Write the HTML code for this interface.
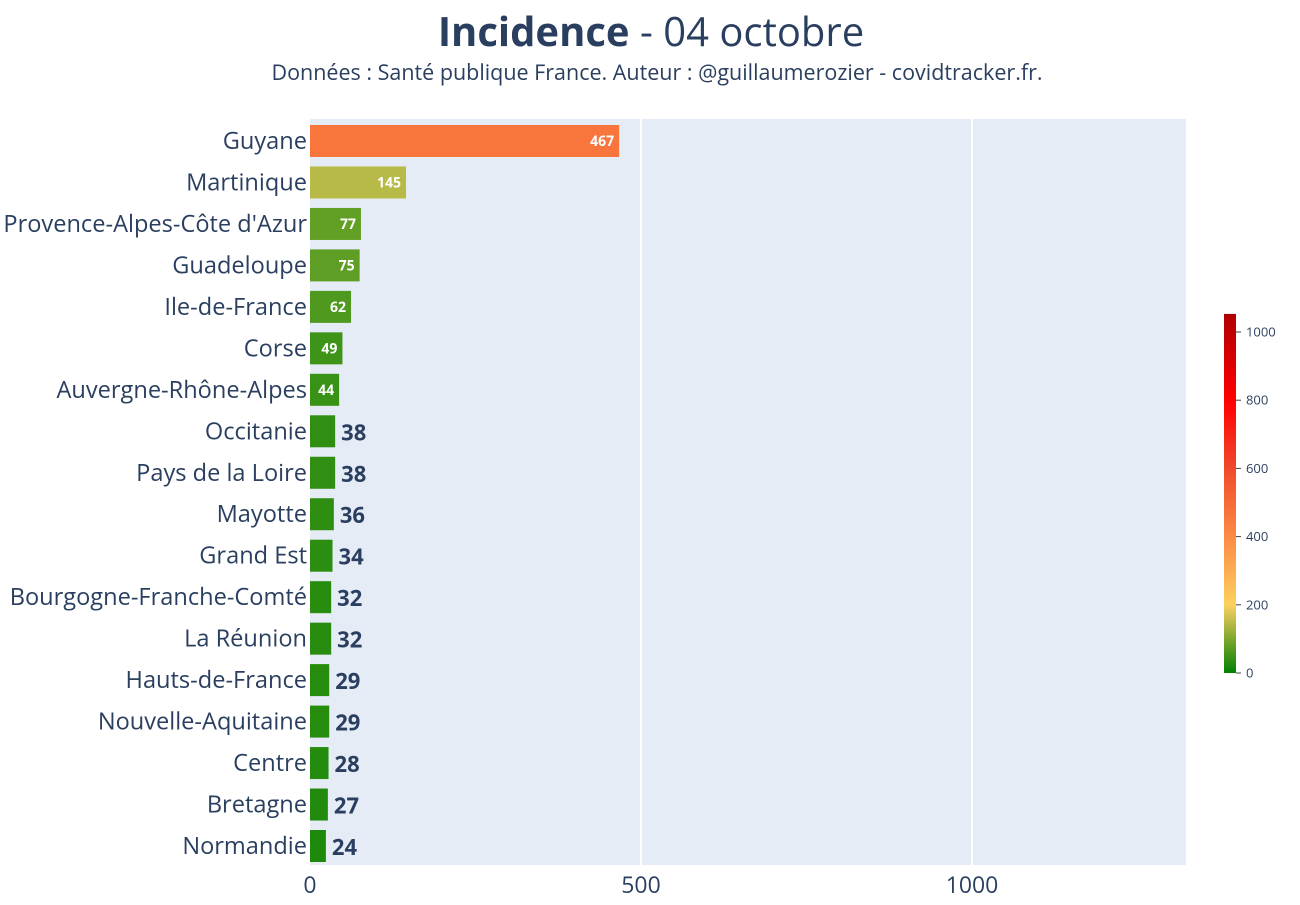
<!DOCTYPE html>
<html><head><meta charset="utf-8"><style>
body{margin:0;background:#fff;}
svg{font-family:"Open Sans","Liberation Sans",sans-serif;}
</style></head><body>
<svg id="c" width="1300" height="900" xmlns="http://www.w3.org/2000/svg">
<text x="651" y="46" text-anchor="middle" font-size="40" fill="#2a3f5f"><tspan font-weight="bold">Incidence</tspan> - 04 octobre</text>
<text x="657" y="80" text-anchor="middle" font-size="21.5" fill="#2a3f5f">Données : Santé publique France. Auteur : @guillaumerozier - covidtracker.fr.</text>
<rect x="310" y="119" width="876" height="746" fill="#e5ecf6"/>
<g id="grid"></g><g id="bars"></g><g id="xt"></g><g id="cb"></g>
</svg>
<script>
const categories=["Guyane","Martinique","Provence-Alpes-Côte d'Azur","Guadeloupe","Ile-de-France","Corse","Auvergne-Rhône-Alpes","Occitanie","Pays de la Loire","Mayotte","Grand Est","Bourgogne-Franche-Comté","La Réunion","Hauts-de-France","Nouvelle-Aquitaine","Centre","Bretagne","Normandie"];
const values=[467,145,77,75,62,49,44,38,38,36,34,32,32,29,29,28,27,24];
const xTicks=[0,500,1000];
const cbTicks=[0,200,400,600,800,1000];
const NS="http://www.w3.org/2000/svg";
const X0=310,PX=331/500;
const xs=v=>X0+v*PX;
const Y0=141,STEP=(846-141)/17,BH=32;
const ys=i=>Y0+i*STEP;
const stops=[[0,[0,128,0]],[200,[253,208,96]],[400,[252,138,69]],[600,[240,74,42]],[800,[255,0,0]],[1053,[176,0,0]]];
function col(v){for(let k=1;k<stops.length;k++){if(v<=stops[k][0]){const a=stops[k-1],b=stops[k],t=(v-a[0])/(b[0]-a[0]);return 'rgb('+a[1].map((c,j)=>Math.round(c+(b[1][j]-c)*t)).join(',')+')';}}return 'rgb(176,0,0)';}
function el(t,a,p,txt){const e=document.createElementNS(NS,t);for(const k in a)e.setAttribute(k,a[k]);if(txt!==undefined)e.textContent=txt;p.appendChild(e);return e;}
const g=document.getElementById('grid'),b=document.getElementById('bars'),xt=document.getElementById('xt'),cb=document.getElementById('cb');
xTicks.forEach(t=>{if(t>0){const l=el('line',{x1:xs(t),x2:xs(t),y1:119,y2:865,stroke:'#fff','stroke-width':2},g);

}
const tx=el('text',{x:xs(t),y:893,'text-anchor':'middle','font-size':23,fill:'#2a3f5f'},xt,String(t));

});
categories.forEach((c,i)=>{const v=values[i],y=ys(i);
const r=el('rect',{x:X0,y:y-BH/2,width:xs(v)-X0,height:BH,fill:col(v)},b);


const lb=el('text',{x:307,y:y+8,'text-anchor':'end','font-size':23.6,fill:'#2a3f5f'},b,c);


let vt;
if(v>=40){vt=el('text',{x:xs(v)-5,y:y+5,'text-anchor':'end','font-size':14,'font-weight':'bold',fill:'#fff'},b,String(v));}
else{vt=el('text',{x:xs(v)+6,y:y+9,'font-size':22,'font-weight':'bold',fill:'#2a3f5f'},b,String(v));}

});
const defs=el('defs',{},cb);const lg=el('linearGradient',{id:'gr',x1:0,y1:1,x2:0,y2:0},defs);
stops.forEach(s=>el('stop',{offset:s[0]/1053,'stop-color':'rgb('+s[1].join(',')+')'},lg));
const CB0=673,CBP=(673-332)/1000;const cy=v=>CB0-v*CBP;
const bar=el('rect',{x:1224,y:cy(1053),width:12,height:CB0-cy(1053),fill:'url(#gr)'},cb);


cbTicks.forEach(t=>{el('line',{x1:1236,x2:1241,y1:cy(t),y2:cy(t),stroke:'#444','stroke-width':1},cb);
const tt=el('text',{x:1246,y:cy(t)+4.5,'font-size':13,fill:'#2a3f5f'},cb,String(t));

});
</script>
</body></html>
